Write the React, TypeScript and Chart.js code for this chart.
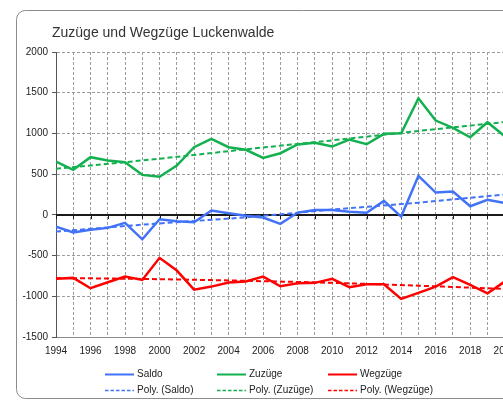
import React, { useEffect, useRef } from 'react';
import { Chart, registerables } from 'chart.js';

Chart.register(...registerables);

const chartTitle = 'Zuzüge und Wegzüge Luckenwalde';

const years = [
  1994, 1995, 1996, 1997, 1998, 1999, 2000, 2001, 2002, 2003, 2004, 2005, 2006, 2007,
  2008, 2009, 2010, 2011, 2012, 2013, 2014, 2015, 2016, 2017, 2018, 2019, 2020,
];
const saldo = [
  -144, -217, -184, -160, -98, -300, -54, -79, -91, 53, 20, -12, -33, -111,
  28, 61, 61, 37, 25, 172, -21, 479, 274, 286, 106, 184, 145,
];
const zuzuege = [
  655, 553, 708, 667, 646, 491, 467, 606, 831, 934, 831, 799, 700, 757,
  864, 884, 839, 925, 867, 995, 1003, 1432, 1158, 1069, 953, 1138, 965,
];
const wegzuege = [
  -786, -774, -901, -828, -758, -799, -528, -684, -918, -881, -832, -819, -758, -877,
  -840, -835, -786, -889, -852, -852, -1032, -958, -881, -766, -860, -963, -820,
];

const trendYears = [1994, 2000, 2005, 2010, 2015, 2020];
const saldoTrend = [-205, -105, -30, 65, 150, 250];
const zuzuegeTrend = [565, 690, 805, 915, 1030, 1140];
const wegzuegeTrend = [-775, -790, -810, -835, -870, -910];

const seriesLabels = ['Saldo', 'Zuzüge', 'Wegzüge'];
const trendLabels = ['Poly. (Saldo)', 'Poly. (Zuzüge)', 'Poly. (Wegzüge)'];
const xAxisLabels = ['1994', '1996', '1998', '2000', '2002', '2004', '2006', '2008', '2010', '2012', '2014', '2016', '2018', '2020'];

const yMin = -1500;
const yMax = 2000;
const yStep = 500;
const xMin = 1994;
const xMax = 2021;

const BLUE = '#4272f7';
const GREEN = '#13b04f';
const RED = '#ff0000';
const FONT = '"Liberation Sans", Arial, sans-serif';

const toPoints = (xs: number[], ys: number[]) => xs.map((x, i) => ({ x, y: ys[i] }));

const framePlugin = {
  id: 'frame',
  beforeDraw(chart: any) {
    const ctx = chart.ctx;
    ctx.save();
    ctx.fillStyle = '#ffffff';
    ctx.fillRect(0, 0, chart.width, chart.height);
    ctx.strokeStyle = '#8c8c8c';
    ctx.lineWidth = 1;
    ctx.beginPath();
    (ctx as any).roundRect(16.5, 10.5, chart.width + 40, 388, 9);
    ctx.stroke();
    ctx.restore();
  },
};

const zeroLinePlugin = {
  id: 'zeroLine',
  beforeDatasetsDraw(chart: any) {
    const { ctx, chartArea, scales } = chart;
    const y0 = Math.round(scales.y.getPixelForValue(0));
    ctx.save();
    ctx.strokeStyle = '#1a1a1a';
    ctx.lineWidth = 2;
    ctx.beginPath();
    ctx.moveTo(chartArea.left, y0);
    ctx.lineTo(chartArea.right, y0);
    ctx.stroke();
    ctx.lineWidth = 1;
    ctx.beginPath();
    scales.x.ticks.forEach((t: any) => {
      const x = Math.round(scales.x.getPixelForValue(t.value)) + 0.5;
      ctx.moveTo(x, y0);
      ctx.lineTo(x, y0 + 4);
    });
    ctx.stroke();
    ctx.restore();
  },
};

const titleLegendPlugin = {
  id: 'titleLegend',
  afterDraw(chart: any) {
    const ctx = chart.ctx;
    ctx.save();
    ctx.fillStyle = '#333333';
    ctx.font = `14px ${FONT}`;
    ctx.textBaseline = 'alphabetic';
    ctx.textAlign = 'left';
    ctx.fillText(chartTitle, 52, 36.5);

    const cols = [105, 217, 328];
    const rows = [374, 390];
    ctx.font = `10px ${FONT}`;
    ctx.textBaseline = 'middle';
    chart.data.datasets.forEach((ds: any, i: number) => {
      const col = i % 3;
      const row = Math.floor(i / 3);
      const x = cols[col];
      const y = rows[row] + 0.5;
      ctx.strokeStyle = ds.borderColor;
      ctx.lineWidth = row === 0 ? 2 : 1.5;
      ctx.setLineDash(row === 0 ? [] : [3.5, 2]);
      ctx.beginPath();
      ctx.moveTo(x, y);
      ctx.lineTo(x + 29, y);
      ctx.stroke();
      ctx.setLineDash([]);
      ctx.fillStyle = '#222222';
      ctx.fillText(ds.label, x + 32, y);
    });
    ctx.restore();
  },
};

export default function App() {
  const canvasRef = useRef<HTMLCanvasElement | null>(null);

  useEffect(() => {
    if (!canvasRef.current) return;
    const seriesValues = [saldo, zuzuege, wegzuege];
    const trendValues = [saldoTrend, zuzuegeTrend, wegzuegeTrend];
    const colors = [BLUE, GREEN, RED];

    const datasets: any[] = [];
    seriesValues.forEach((vals, i) => {
      datasets.push({
        label: seriesLabels[i],
        data: toPoints(years, vals),
        borderColor: colors[i],
        backgroundColor: colors[i],
        borderWidth: 2.5,
        pointRadius: 0,
        tension: 0,
        order: 2,
      });
    });
    trendValues.forEach((vals, i) => {
      datasets.push({
        label: trendLabels[i],
        data: toPoints(trendYears, vals),
        borderColor: colors[i],
        backgroundColor: colors[i],
        borderWidth: 2,
        borderDash: [5, 3],
        pointRadius: 0,
        tension: 0.4,
        cubicInterpolationMode: 'monotone',
        order: 1,
      });
    });

    const chart = new Chart(canvasRef.current, {
      type: 'line',
      data: { datasets },
      options: {
        animation: false,
        responsive: false,
        devicePixelRatio: 1,
        layout: { padding: { top: 52, left: 0, right: 58, bottom: 0 } },
        plugins: {
          legend: { display: false },
          title: { display: false },
          tooltip: { enabled: false },
        },
        scales: {
          x: {
            type: 'linear',
            min: xMin,
            max: xMax,
            ticks: {
              stepSize: 1,
              autoSkip: false,
              maxRotation: 0,
              padding: 8,
              color: '#222222',
              font: { size: 10, family: FONT },
              callback: (v: any) => (xAxisLabels.includes(String(v)) ? String(v) : ''),
            },
            grid: { color: '#9c9c9c', lineWidth: 1, drawTicks: false },
            border: { display: true, color: '#8c8c8c', width: 1, dash: [3, 2] },
            afterFit: (s: any) => {
              s.height = 64;
            },
          },
          y: {
            min: yMin,
            max: yMax,
            ticks: {
              stepSize: yStep,
              padding: 4,
              color: '#222222',
              font: { size: 10, family: FONT },
              callback: (v: any) => String(v),
            },
            grid: {
              color: '#9c9c9c',
              lineWidth: 1,
              drawTicks: true,
              tickLength: 4,
              tickColor: '#555555',
              tickBorderDash: [],
            },
            border: { display: true, color: '#555555', width: 1, dash: [3, 2] },
            afterFit: (s: any) => {
              s.width = 56;
            },
          },
        },
      } as any,
      plugins: [framePlugin, zeroLinePlugin, titleLegendPlugin],
    });
    return () => chart.destroy();
  }, []);

  return (
    <div
      style={{
        position: 'fixed',
        left: 0,
        top: 0,
        width: 503,
        height: 401,
        overflow: 'hidden',
        background: '#ffffff',
      }}
    >
      <canvas
        ref={canvasRef}
        width={580}
        height={401}
        style={{ display: 'block', width: 580, height: 401 }}
      />
    </div>
  );
}
